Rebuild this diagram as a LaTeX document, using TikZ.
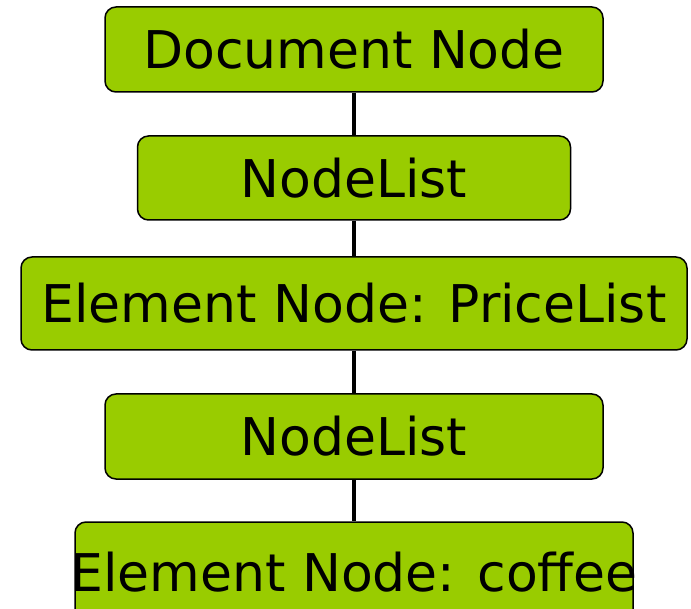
\documentclass[tikz,border=0pt]{standalone}
\usepackage{fontspec}
\setmainfont{DejaVu Sans}
\definecolor{leafgreen}{HTML}{99CC00}
\tikzset{
	treebox/.style = {draw = black, line width = 1.5pt, fill = leafgreen, rounded corners = 11pt,
		inner sep = 0pt, font = \fontsize{52}{60}\selectfont},
	treelink/.style = {line width = 4pt}
}
\begin{document}
\begin{tikzpicture}[x = 1pt, y = 1pt]
		\useasboundingbox (0,0) rectangle (691,-609);
		\node[treebox, minimum width = 498pt, minimum height = 85pt] (doc) at (354,-49.5) {Document Node};
		\node[treebox, minimum width = 433pt, minimum height = 84pt] (listA) at (354,-178) {NodeList};
		\node[treebox, minimum width = 666pt, minimum height = 93pt] (price) at (354,-303.5) {Element Node: PriceList};
		\node[treebox, minimum width = 498pt, minimum height = 85pt] (listB) at (354,-436.5) {NodeList};
		\node[treebox, minimum width = 558pt, minimum height = 100pt] (coffee) at (354,-572) {\makebox[0pt]{Element Node: coffee}};
		\draw[treelink] (doc.south) -- (listA.north);
		\draw[treelink] (listA.south) -- (price.north);
		\draw[treelink] (price.south) -- (listB.north);
		\draw[treelink] (listB.south) -- (coffee.north);
	\end{tikzpicture}
\end{document}
